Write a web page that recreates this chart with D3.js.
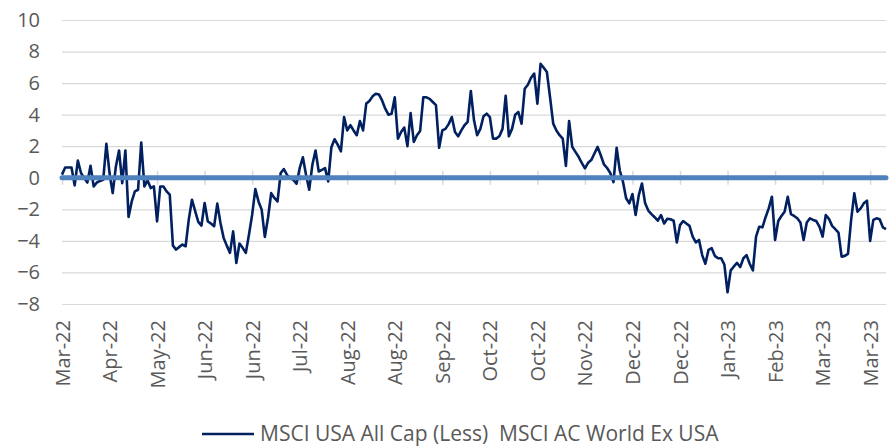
<!DOCTYPE html>
<html>
<head>
<meta charset="utf-8">
<script src="https://cdn.jsdelivr.net/npm/d3@7"></script>
<style>
  html, body { margin: 0; padding: 0; background: #ffffff; }
  svg { display: block; }
  text { font-family: "Open Sans", "Noto Sans", sans-serif; fill: #595959; }
</style>
</head>
<body>
<svg id="chart" width="893" height="448"></svg>
<script>
// ---- data ----
const seriesName = "MSCI USA All Cap (Less)  MSCI AC World Ex USA";
const tickLabels = ["Mar-22","Apr-22","May-22","Jun-22","Jun-22","Jul-22","Aug-22","Aug-22","Sep-22",
  "Oct-22","Oct-22","Nov-22","Dec-22","Dec-22","Jan-23","Feb-23","Mar-23","Mar-23"];
const tickStep = 15;
const yTicks = [-8,-6,-4,-2,0,2,4,6,8,10];
const values = [
  0.2, 0.65, 0.65, 0.65, -0.48, 1.09, 0.3, -0.02, -0.3, 0.76,
  -0.55, -0.3, -0.2, -0.13, 2.15, 0.3, -0.97, 0.72, 1.73, -0.34,
  1.73, -2.48, -1.5, -0.86, -0.76, 2.23, -0.55, -0.17, -0.65, -0.55,
  -2.76, -0.55, -0.55, -0.86, -1.07, -4.3, -4.55, -4.38, -4.23, -4.34,
  -2.65, -1.39, -2.1, -2.8, -3.03, -1.6, -2.76, -2.9, -3.07, -1.64,
  -2.86, -3.81, -4.3, -4.76, -3.4, -5.4, -4.17, -4.44, -4.76, -3.6,
  -2.34, -0.72, -1.5, -2.02, -3.75, -2.55, -0.97, -1.28, -1.5, 0.3,
  0.55, 0.19, -0.02, -0.13, -0.38, 0.61, 1.3, 0.19, -0.76, 0.82,
  1.73, 0.4, 0.5, 0.61, -0.23, 1.94, 2.44, 2.1, 1.68, 3.85,
  3.0, 3.33, 3.0, 2.7, 3.6, 3.0, 4.7, 4.86, 5.16, 5.33,
  5.28, 4.9, 4.38, 4.0, 4.06, 5.1, 2.48, 2.9, 3.18, 2.0,
  4.1, 2.27, 2.7, 2.97, 5.1, 5.1, 5.0, 4.8, 4.6, 1.9,
  3.0, 3.1, 3.4, 3.85, 2.9, 2.63, 3.0, 3.33, 3.54, 5.5,
  3.64, 2.7, 3.1, 3.9, 4.06, 3.85, 2.48, 2.48, 2.63, 3.1,
  5.2, 2.63, 3.1, 4.0, 4.17, 3.43, 5.64, 5.9, 6.34, 6.6,
  4.7, 7.22, 6.97, 6.7, 5.1, 3.43, 3.0, 2.7, 2.48, 0.75,
  3.6, 1.96, 1.64, 1.33, 0.95, 0.59, 0.95, 1.12, 1.54, 1.96,
  1.43, 0.85, 0.62, 0.3, -0.28, 1.9, 0.46, -0.25, -1.3, -1.62,
  -1.03, -2.36, -1.1, -0.36, -1.62, -2.08, -2.3, -2.5, -2.72, -2.36,
  -2.9, -2.6, -2.63, -2.72, -4.1, -3.0, -2.74, -2.9, -3.05, -3.73,
  -4.1, -3.94, -4.9, -5.45, -4.57, -4.46, -4.95, -5.1, -5.1, -5.5,
  -7.26, -5.87, -5.62, -5.4, -5.66, -5.1, -4.9, -5.45, -5.87, -3.73,
  -3.1, -3.14, -2.5, -1.94, -1.2, -3.94, -2.74, -2.42, -2.15, -1.2,
  -2.3, -2.42, -2.57, -2.84, -3.94, -2.84, -2.57, -2.67, -2.74, -3.1,
  -3.73, -2.36, -2.6, -3.05, -3.26, -3.47, -5.0, -4.95, -4.82, -2.67,
  -0.99, -2.15, -1.94, -1.62, -1.45, -4.0, -2.67, -2.57, -2.63, -3.14,
  -3.26
];
const zeroLine = values.map(() => 0);

// ---- layout ----
const svg = d3.select("#chart");
const plotL = 62, plotR = 886, plotT = 20, plotB = 304;

const x = d3.scaleLinear().domain([0, values.length - 1]).range([plotL, plotR]);
const y = d3.scaleLinear().domain([-8, 10]).range([plotB, plotT]);

// gridlines
svg.append("g")
  .attr("transform", `translate(${plotL},0)`)
  .call(d3.axisLeft(y).tickValues(yTicks).tickSize(-(plotR - plotL)).tickFormat(""))
  .call(g => g.select(".domain").remove())
  .call(g => g.selectAll("line").attr("stroke", "#d9d9d9").attr("stroke-width", 1.2));

// y labels
svg.append("g")
  .attr("transform", `translate(40,0)`)
  .call(d3.axisLeft(y).tickValues(yTicks).tickSize(0).tickPadding(0).tickFormat(d3.format("d")))
  .call(g => g.select(".domain").remove())
  .call(g => g.selectAll("text").style("font-size", "20px").attr("fill", "#595959"));

const tickIdx = tickLabels.map((_, i) => i * tickStep);

// x tick marks crossing zero
svg.append("g")
  .attr("transform", `translate(0,${y(0) - 7})`)
  .call(d3.axisBottom(x).tickValues(tickIdx).tickSize(14).tickFormat(""))
  .call(g => g.select(".domain").remove())
  .call(g => g.selectAll("line").attr("stroke", "#d9d9d9").attr("stroke-width", 1.5));

// x labels
svg.append("g")
  .attr("transform", `translate(0,${plotB})`)
  .call(d3.axisBottom(x).tickValues(tickIdx).tickSize(0).tickFormat((d, i) => tickLabels[i]))
  .call(g => g.select(".domain").remove())
  .call(g => g.selectAll("text")
    .style("font-size", "20px")
    .attr("fill", "#595959")
    .attr("transform", "rotate(-90)")
    .attr("x", -16)
    .attr("y", 0)
    .attr("dy", "0.35em")
    .style("text-anchor", "end"));

// series line
const line = d3.line().x((d, i) => x(i)).y(d => y(d));
svg.append("path")
  .datum(values)
  .attr("fill", "none")
  .attr("stroke", "#002060")
  .attr("stroke-width", 2.6)
  .attr("stroke-linejoin", "round")
  .attr("d", line);

// zero line
svg.append("path")
  .datum(zeroLine)
  .attr("fill", "none")
  .attr("stroke", "#4f81bd")
  .attr("stroke-width", 5)
  .attr("stroke-linecap", "round")
  .attr("d", line);

// legend
const lg = svg.append("g");
lg.append("line").attr("x1", 202).attr("x2", 254).attr("y1", 434).attr("y2", 434)
  .attr("stroke", "#002060").attr("stroke-width", 2.6);
lg.append("text").attr("x", 260).attr("y", 441)
  .style("font-size", "21px").attr("fill", "#595959")
  .attr("xml:space", "preserve")
  .style("white-space", "pre")
  .text(seriesName);
</script>
</body>
</html>
